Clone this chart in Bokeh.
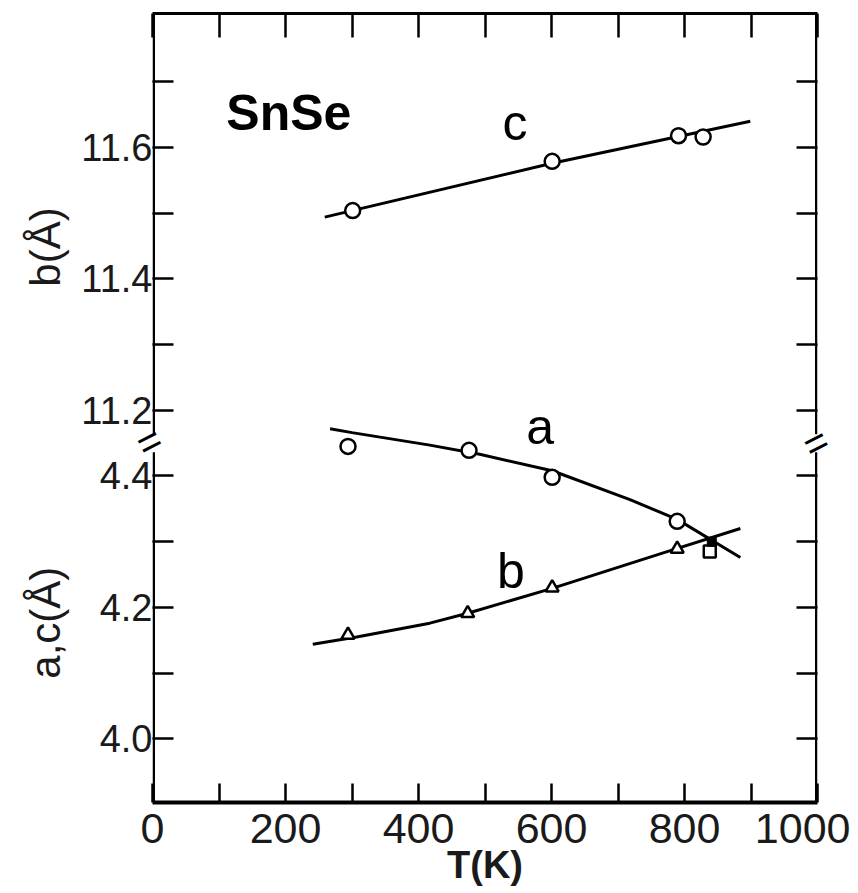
import math
from bokeh.plotting import figure
from bokeh.models import FixedTicker, LinearAxis, Label, Range1d
from bokeh.embed import file_html
from bokeh.resources import INLINE

# ---------------- data ----------------
# upper panel: b(Å) axis, curve labelled "c"
T_c = [301, 601, 791, 828]
c_vals = [11.504, 11.579, 11.618, 11.616]
T_c_fit = [259, 601, 899]
c_fit = [11.494, 11.576, 11.640]

# lower panel: a,c(Å) axis, curve labelled "a" (circles)
T_a = [294, 476, 601, 789]
a_vals = [4.445, 4.439, 4.398, 4.331]
T_a_fit = [267, 300, 417, 492, 601, 718, 789, 884]
a_fit = [4.472, 4.466, 4.447, 4.433, 4.408, 4.364, 4.334, 4.276]

# lower panel: curve labelled "b" (triangles)
T_b = [294, 474, 601, 789]
b_vals = [4.158, 4.191, 4.230, 4.289]
T_b_fit = [241, 307, 417, 474, 601, 768, 884]
b_fit = [4.144, 4.155, 4.176, 4.191, 4.229, 4.283, 4.320]

# squares near the transition
T_sq_open = [838]
sq_open_vals = [4.285]
T_sq_fill = [841]
sq_fill_vals = [4.300]

x_ticks = [0, 200, 400, 600, 800, 1000]
x_minor = [100, 300, 500, 700, 900]
y_lower_ticks = [4.0, 4.2, 4.4]
y_lower_minor = [4.1, 4.3]
y_upper_ticks = [11.2, 11.4, 11.6]
y_upper_minor = [11.3, 11.5, 11.7]
OFFSET = 6.7      # upper-panel values are drawn at value - OFFSET (broken axis)
BREAK_Y = 4.45    # where the axis is broken

FONT = "Liberation Sans"
NB = "\u00a0"

def up(vals):
    return [round(v - OFFSET, 6) for v in vals]

X0, X1 = 0, 1000
Y0, Y1 = 3.903, 5.104
FW, FH = 665, 789
BL, BT = 152, 13
W, H = 850, 889
pxT = FW / (X1 - X0)
pxY = FH / (Y1 - Y0)

p = figure(width=W, height=H, x_range=Range1d(X0, X1), y_range=Range1d(Y0, Y1),
           output_backend="svg", toolbar_location=None,
           min_border_left=BL, min_border_right=W - BL - FW,
           min_border_top=BT, min_border_bottom=H - BT - FH,
           x_axis_location=None, y_axis_location=None)
p.grid.visible = False
p.outline_line_color = None
p.background_fill_color = "white"
p.border_fill_color = "white"

y_major = y_lower_ticks + up(y_upper_ticks)
y_minor = y_lower_minor + up(y_upper_minor)
y_all = sorted(y_major + y_minor)
y_over = {t: f"{v:.1f}" for t, v in zip(y_major, y_lower_ticks + y_upper_ticks)}


def ticks_style(ax, major_len, minor_len, lw=2.5):
    ax.major_tick_in = major_len
    ax.major_tick_out = 0
    ax.minor_tick_in = minor_len
    ax.minor_tick_out = 0
    ax.major_tick_line_width = lw
    ax.minor_tick_line_width = lw
    ax.major_tick_line_color = "black"
    ax.minor_tick_line_color = "black"


# ---- bottom axis: ticks, labels and the T(K) title
xb = LinearAxis(ticker=FixedTicker(ticks=x_ticks, minor_ticks=x_minor))
ticks_style(xb, 19, 19)
xb.axis_line_width = 4
xb.major_label_text_font = FONT
xb.major_label_text_font_size = "43px"
xb.major_label_text_color = "#1a1a1a"
xb.major_label_standoff = 11
xb.axis_label = "T(K)"
xb.axis_label_text_font = FONT
xb.axis_label_text_font_size = "38px"
xb.axis_label_text_font_style = "bold"
xb.axis_label_text_color = "#1a1a1a"
xb.axis_label_standoff = -2
p.add_layout(xb, "below")

# ---- top axis: ticks only
xt = LinearAxis(ticker=FixedTicker(ticks=x_ticks, minor_ticks=x_minor))
ticks_style(xt, 24, 24)
xt.axis_line_width = 3
xt.major_label_overrides = {t: "" for t in x_ticks}
xt.major_label_standoff = 0
p.add_layout(xt, "above")

# ---- left side, inner axis: tick marks and the break mark
left_break = round(BREAK_Y + 7 / pxY, 6)
ya = LinearAxis(ticker=FixedTicker(ticks=[left_break], minor_ticks=y_all))
ticks_style(ya, 0, 21)
ya.axis_line_color = None
ya.major_label_overrides = {left_break: "="}
ya.major_label_orientation = 0.47
ya.major_label_text_font = FONT
ya.major_label_text_font_size = "40px"
ya.major_label_text_color = "black"
ya.major_label_standoff = -7
p.add_layout(ya, "left")

# ---- left side, outer axis: tick labels and the two axis titles
yb = LinearAxis(ticker=FixedTicker(ticks=y_major, minor_ticks=[]))
ticks_style(yb, 0, 0)
yb.axis_line_color = None
yb.major_label_overrides = y_over
yb.major_label_text_font = FONT
yb.major_label_text_font_size = "38px"
yb.major_label_text_color = "#1a1a1a"
yb.major_label_standoff = -37
yb.axis_label = "a,c(Å)" + NB * 24 + "b(Å)" + NB * 6
yb.axis_label_text_font = FONT
yb.axis_label_text_font_size = "42px"
yb.axis_label_text_font_style = "normal"
yb.axis_label_text_color = "#1a1a1a"
yb.axis_label_standoff = 9
p.add_layout(yb, "left")

# ---- right axis: tick marks and the break mark
right_break = round(BREAK_Y - 5 / pxY, 6)
yr = LinearAxis(ticker=FixedTicker(ticks=[right_break], minor_ticks=y_all))
ticks_style(yr, 0, 21)
yr.axis_line_color = None
yr.major_label_overrides = {right_break: "="}
yr.major_label_orientation = 0.47
yr.major_label_text_font = FONT
yr.major_label_text_font_size = "40px"
yr.major_label_text_color = "black"
yr.major_label_standoff = -12
p.add_layout(yr, "right")

# ---- vertical frame lines, interrupted at the axis break
gap = 9 / pxY
dx = 1.25 / pxT
for xc in (X0 + dx, X1 - dx):
    p.segment(x0=[xc, xc], y0=[Y0, BREAK_Y + gap], x1=[xc, xc], y1=[BREAK_Y - gap, Y1],
              line_color="black", line_width=2.5)

# fitted curves
p.line(T_c_fit, up(c_fit), line_color="black", line_width=3)
p.line(T_a_fit, a_fit, line_color="black", line_width=3)
p.line(T_b_fit, b_fit, line_color="black", line_width=3)

# data points
p.scatter(T_c, up(c_vals), marker="circle", size=15, fill_color="white",
          line_color="black", line_width=2.5)
p.scatter(T_a, a_vals, marker="circle", size=15, fill_color="white",
          line_color="black", line_width=2.5)
p.scatter(T_b, b_vals, marker="triangle", size=13, fill_color="white",
          line_color="black", line_width=2.5)
p.scatter(T_sq_open, sq_open_vals, marker="square", size=12, fill_color="white",
          line_color="black", line_width=2.5)
p.scatter(T_sq_fill, sq_fill_vals, marker="square", size=9, fill_color="black",
          line_color="black", line_width=1)


def lab(text, x, y, size, bold=False, align="center"):
    p.add_layout(Label(x=x, y=y, text=text, text_font=FONT, text_font_size=size,
                       text_font_style="bold" if bold else "normal",
                       text_align=align, text_baseline="alphabetic", text_color="black"))


lab("SnSe", 111, 4.953, "50px", bold=True, align="left")
lab("c", 545, 4.938, "50px")
lab("a", 583, 4.474, "50px")
lab("b", 539, 4.256, "50px")

open("out.html", "w").write(file_html(p, INLINE))
